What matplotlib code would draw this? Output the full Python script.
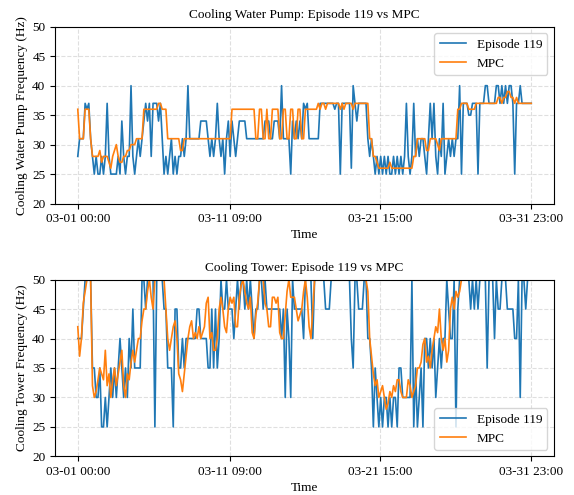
import numpy as np
import matplotlib
matplotlib.use("Agg")
import matplotlib.pyplot as plt

plt.rcParams['font.family'] = ['Liberation Serif', 'DejaVu Serif']

# 3-hourly values, 8 per line = one day (03-01 .. 03-31)
pump_episode = [
    28, 31, 31, 31, 37, 36, 37, 31,
    28, 25, 28, 25, 25, 28, 25, 28,
    37, 28, 25, 25, 25, 25, 28, 25,
    34, 28, 25, 28, 28, 40, 28, 25,
    28, 31, 28, 31, 34, 37, 34, 37,
    28, 37, 37, 37, 34, 37, 31, 25,
    28, 25, 28, 31, 25, 28, 25, 28,
    28, 31, 28, 31, 40, 31, 31, 31,
    31, 31, 31, 34, 34, 34, 34, 31,
    28, 31, 28, 31, 37, 31, 28, 31,
    25, 31, 34, 28, 34, 31, 28, 31,
    34, 34, 34, 34, 31, 31, 31, 31,
    31, 31, 31, 31, 31, 31, 34, 34,
    34, 31, 31, 34, 34, 34, 31, 40,
    31, 31, 31, 31, 25, 34, 31, 34,
    31, 34, 31, 37, 36, 37, 31, 31,
    31, 31, 31, 31, 37, 37, 37, 37,
    37, 37, 37, 37, 36, 37, 37, 25,
    37, 37, 37, 37, 37, 26, 40, 37,
    34, 37, 37, 37, 37, 37, 31, 28,
    31, 28, 25, 28, 25, 28, 25, 28,
    25, 28, 25, 25, 28, 25, 28, 25,
    28, 25, 28, 37, 28, 25, 28, 37,
    28, 31, 28, 31, 31, 28, 25, 31,
    37, 31, 37, 28, 25, 31, 28, 37,
    25, 28, 31, 28, 31, 28, 31, 31,
    40, 25, 37, 37, 37, 35, 35, 37,
    37, 37, 25, 37, 37, 37, 40, 40,
    37, 37, 37, 37, 40, 40, 37, 40,
    37, 40, 37, 40, 40, 37, 25, 37,
    37, 40, 37, 37, 37, 37, 37, 37,
]

pump_mpc = [
    36, 31, 31, 31, 36, 36, 36, 31,
    28, 28, 28, 28, 29, 27, 28, 28,
    28, 27, 26, 28, 29, 30, 28, 27,
    27, 28, 28, 29, 29, 30, 30, 30,
    31, 31, 31, 31, 36, 36, 36, 36,
    36, 36, 36, 36, 37, 37, 36, 36,
    36, 31, 31, 31, 31, 31, 31, 31,
    29, 29, 31, 31, 31, 31, 31, 31,
    31, 31, 31, 31, 31, 31, 31, 31,
    31, 31, 31, 31, 31, 31, 31, 31,
    31, 31, 31, 31, 36, 36, 36, 36,
    36, 36, 36, 36, 36, 36, 36, 36,
    36, 31, 31, 36, 36, 31, 31, 36,
    31, 31, 36, 36, 36, 36, 31, 31,
    36, 36, 31, 31, 36, 36, 31, 31,
    36, 36, 31, 31, 36, 36, 36, 36,
    36, 36, 36, 37, 36, 37, 37, 36,
    37, 37, 37, 37, 37, 37, 37, 36,
    37, 36, 37, 37, 37, 37, 36, 37,
    37, 37, 37, 37, 37, 37, 37, 31,
    31, 28, 28, 27, 26, 26, 26, 26,
    26, 26, 27, 26, 26, 26, 26, 26,
    26, 26, 26, 26, 26, 26, 26, 28,
    28, 31, 31, 31, 31, 31, 29, 29,
    31, 31, 31, 31, 30, 29, 31, 31,
    31, 31, 31, 31, 31, 31, 31, 36,
    36, 37, 37, 37, 37, 36, 36, 36,
    36, 37, 37, 37, 37, 37, 37, 37,
    37, 37, 37, 37, 37, 38, 38, 37,
    38, 38, 39, 39, 38, 38, 37, 38,
    37, 37, 37, 37, 37, 37, 37, 37,
]

tower_episode = [
    40, 40, 40, 45, 50, 50, 50, 50,
    35, 35, 30, 30, 35, 25, 25, 30,
    25, 30, 35, 30, 35, 30, 35, 40,
    35, 30, 35, 30, 40, 35, 45, 35,
    35, 35, 35, 50, 50, 45, 50, 50,
    50, 50, 25, 50, 50, 50, 50, 45,
    45, 35, 35, 35, 25, 45, 45, 35,
    35, 40, 35, 40, 40, 40, 40, 40,
    40, 45, 45, 40, 40, 40, 40, 35,
    35, 45, 35, 45, 35, 40, 50, 45,
    45, 50, 45, 45, 45, 40, 45, 50,
    45, 50, 50, 45, 50, 45, 50, 45,
    40, 45, 45, 50, 50, 45, 50, 45,
    45, 45, 45, 45, 45, 45, 45, 40,
    45, 30, 45, 40, 30, 50, 45, 45,
    45, 45, 45, 40, 50, 50, 50, 50,
    40, 50, 50, 50, 50, 50, 50, 45,
    45, 45, 50, 50, 50, 50, 50, 50,
    50, 50, 50, 50, 50, 40, 35, 50,
    50, 45, 45, 45, 50, 50, 40, 40,
    35, 25, 35, 30, 25, 30, 25, 30,
    30, 25, 30, 25, 30, 30, 25, 35,
    35, 30, 30, 30, 30, 30, 50, 25,
    35, 25, 30, 35, 25, 40, 40, 35,
    40, 35, 40, 30, 35, 40, 35, 40,
    40, 50, 45, 40, 40, 50, 25, 45,
    50, 50, 50, 50, 50, 50, 45, 50,
    45, 50, 45, 50, 50, 50, 50, 35,
    50, 50, 50, 40, 50, 45, 45, 50,
    50, 50, 45, 45, 45, 45, 40, 40,
    50, 30, 50, 50, 45, 50, 50, 50,
]

tower_mpc = [
    42, 37, 40, 46, 48, 50, 50, 50,
    32, 30, 31, 33, 35, 34, 33, 38,
    32, 34, 30, 33, 35, 32, 34, 36,
    38, 32, 30, 34, 33, 36, 38, 36,
    38, 40, 40, 43, 45, 45, 48, 50,
    47, 45, 50, 50, 50, 50, 50, 50,
    45, 40, 38, 40, 42, 43, 40, 34,
    33, 31, 34, 37, 40, 42, 43, 40,
    41, 40, 42, 40, 41, 42, 46, 47,
    40, 41, 38, 38, 40, 45, 47, 45,
    42, 41, 45, 47, 46, 47, 42, 42,
    47, 49, 50, 48, 46, 45, 47, 41,
    40, 44, 46, 50, 50, 50, 46, 45,
    42, 42, 47, 47, 46, 47, 41, 40,
    40, 44, 48, 50, 47, 47, 47, 45,
    43, 44, 45, 48, 50, 47, 42, 40,
    45, 50, 50, 50, 50, 50, 50, 50,
    50, 50, 50, 50, 50, 50, 50, 50,
    50, 50, 50, 50, 50, 50, 50, 50,
    50, 50, 50, 50, 50, 50, 48, 40,
    37, 34, 32, 33, 30, 31, 32, 30,
    28, 29, 31, 30, 32, 31, 33, 33,
    31, 30, 30, 30, 33, 32, 30, 31,
    32, 35, 35, 36, 39, 40, 36, 37,
    35, 38, 40, 42, 41, 45, 40, 38,
    40, 36, 38, 45, 47, 45, 48, 47,
    48, 50, 50, 50, 50, 50, 50, 50,
    50, 50, 50, 50, 50, 50, 50, 50,
    50, 50, 50, 50, 50, 50, 50, 50,
    50, 50, 50, 50, 50, 50, 50, 50,
    50, 50, 50, 50, 50, 50, 50, 50,
]

tick_hours = [0, 249, 495, 743]
tick_labels = ['03-01 00:00', '03-11 09:00', '03-21 15:00', '03-31 23:00']

hours = np.linspace(0, 743, len(pump_mpc))

fig, axes = plt.subplots(2, 1, figsize=(5.74, 4.95), dpi=100)
fig.subplots_adjust(left=0.096, right=0.965, top=0.946, bottom=0.078, hspace=0.43)

panels = [
    (axes[0], pump_episode, pump_mpc, 'Cooling Water Pump: Episode 119 vs MPC',
     'Cooling Water Pump Frequency (Hz)', 'upper right'),
    (axes[1], tower_episode, tower_mpc, 'Cooling Tower: Episode 119 vs MPC',
     'Cooling Tower Frequency (Hz)', 'lower right'),
]

fs = 9.5
for ax, ep, mpc, title, ylabel, loc in panels:
    ax.plot(hours, ep, color='tab:blue', lw=1.2, label='Episode 119')
    ax.plot(hours, mpc, color='tab:orange', lw=1.2, label='MPC')
    ax.set_ylim(20, 50)
    ax.set_xlim(-0.05 * 743, 743 * 1.05)
    ax.set_xticks(tick_hours)
    ax.set_xticklabels(tick_labels)
    ax.set_yticks([20, 25, 30, 35, 40, 45, 50])
    ax.tick_params(labelsize=fs)
    ax.grid(True, linestyle='--', alpha=0.4)
    ax.set_title(title, fontsize=fs)
    ax.set_xlabel('Time', fontsize=fs, labelpad=3)
    ax.set_ylabel(ylabel, fontsize=fs, labelpad=3)
    ax.legend(loc=loc, fontsize=fs)

fig.savefig('out.png', dpi=100)
